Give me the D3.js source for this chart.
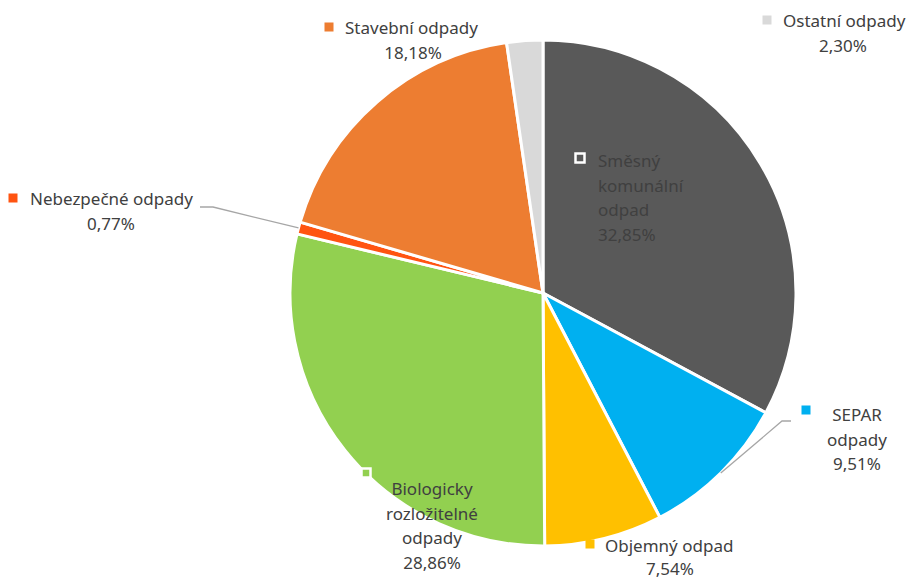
<!DOCTYPE html>
<html>
<head>
<meta charset="utf-8">
<script src="https://cdn.jsdelivr.net/npm/d3@7"></script>
<style>
  body { margin: 0; background: #fff; }
  text { font-family: "Noto Sans", sans-serif; font-size: 17px; fill: #404040; }
</style>
</head>
<body>
<div id="chart"></div>
<script>
// data, clockwise from 12 o'clock
const categories = ["Směsný komunální odpad", "SEPAR odpady", "Objemný odpad",
  "Biologicky rozložitelné odpady", "Nebezpečné odpady", "Stavební odpady", "Ostatní odpady"]
const shares = [32.85, 9.51, 7.54, 28.86, 0.77, 18.18, 2.30]
const shareLabels = ["32,85%", "9,51%", "7,54%", "28,86%", "0,77%", "18,18%", "2,30%"]
const colors = ["#595959", "#00B0F0", "#FFC000", "#92D050", "#FF5411", "#ED7D31", "#D9D9D9"]

// label layout (Excel-style manual placement): lines of text, anchor, marker position
const labelLayout = [
  {lines: ["Směsný", "komunální", "odpad", "32,85%"], x: 598, y: 160, anchor: "start", mx: 580, my: 158, boxed: true},
  {lines: ["SEPAR", "odpady", "9,51%"], x: 857, y: 414, anchor: "middle", mx: 806, my: 410, leader: [[782, 421], [791, 421]]},
  {lines: ["Objemný odpad", "7,54%"], x: 670, y: 545, anchor: "middle", mx: 590, my: 544, firstStart: 605},
  {lines: ["Biologicky", "rozložitelné", "odpady", "28,86%"], x: 432, y: 488, anchor: "middle", mx: 366, my: 473, boxed: true},
  {lines: ["Nebezpečné odpady", "0,77%"], x: 111, y: 198, anchor: "middle", mx: 13, my: 198, firstStart: 30, leader: [[213, 207], [200, 207]]},
  {lines: ["Stavební odpady", "18,18%"], x: 413, y: 27, anchor: "middle", mx: 329, my: 27, firstStart: 345},
  {lines: ["Ostatní odpady", "2,30%"], x: 843, y: 20, anchor: "middle", mx: 767, my: 20, firstStart: 783}
]

const width = 907, height = 579
const cx = 543, cy = 293, radius = 253
const lineH = 24.5

const svg = d3.select("#chart").append("svg")
  .attr("width", width)
  .attr("height", height)

const pie = d3.pie().sort(null).value(d => d)
const arcs = pie(shares)
const arc = d3.arc().innerRadius(0).outerRadius(radius)

const g = svg.append("g").attr("transform", `translate(${cx},${cy})`)

g.selectAll("path")
  .data(arcs)
  .enter()
  .append("path")
  .attr("d", arc)
  .attr("fill", (d, i) => colors[i])
  .attr("stroke", "#fff")
  .attr("stroke-width", 3)
  .attr("stroke-linejoin", "round")

// leader lines from slice edge to label
const edge = d3.arc().innerRadius(radius).outerRadius(radius)
labelLayout.forEach((lab, i) => {
  if (!lab.leader) return
  const p = edge.centroid(arcs[i])
  const pts = [[p[0] + cx, p[1] + cy]].concat(lab.leader)
  svg.append("path")
    .attr("d", d3.line()(pts))
    .attr("fill", "none")
    .attr("stroke", "#A6A6A6")
    .attr("stroke-width", 1.3)
})

// labels
labelLayout.forEach((lab, i) => {
  const t = svg.append("text")
    .attr("text-anchor", lab.anchor)
    .attr("dominant-baseline", "central")
  lab.lines.forEach((ln, k) => {
    t.append("tspan")
      .attr("x", k == 0 && lab.firstStart ? lab.firstStart : lab.x)
      .attr("text-anchor", k == 0 && lab.firstStart ? "start" : lab.anchor)
      .attr("y", lab.y + k * (k && lab.y > 540 ? 23 : lineH))
      .text(ln)
  })
  svg.append("rect")
    .attr("x", lab.mx - 4.5)
    .attr("y", lab.my - 4.5)
    .attr("width", 9)
    .attr("height", 9)
    .attr("fill", colors[i])
    .attr("stroke", lab.boxed ? "#fff" : "none")
    .attr("stroke-width", 2.5)
})
</script>
</body>
</html>
